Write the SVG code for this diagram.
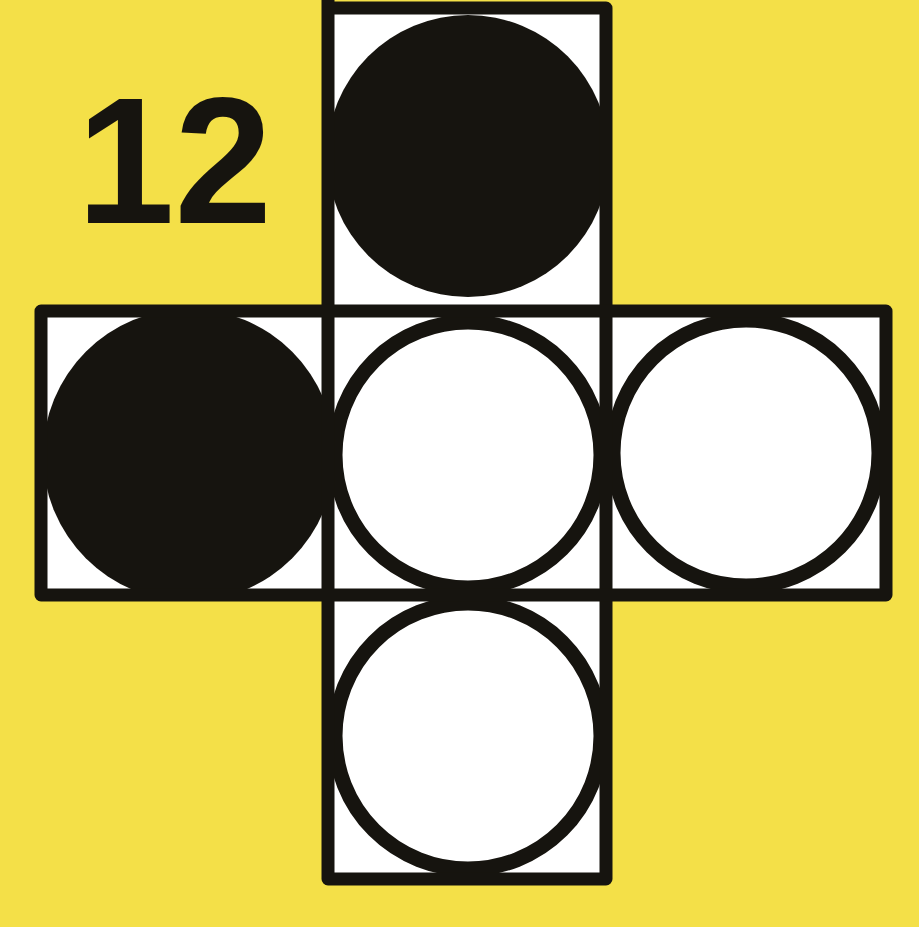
<svg xmlns="http://www.w3.org/2000/svg" width="919" height="927" viewBox="0 0 919 927">
<style>
.ln{stroke:#16140f;stroke-width:13;fill:none;stroke-linejoin:round;stroke-linecap:round}
.blk{fill:#16140f}
.wht{fill:#ffffff;stroke:#16140f;stroke-width:15}
.num{font-family:"Liberation Sans",Arial,sans-serif;font-weight:bold;font-size:180px;fill:#16140f}
</style>
<rect width="919" height="927" fill="#f4e048"/>
<g id="label"><text class="num" x="77" y="223" textLength="195" lengthAdjust="spacingAndGlyphs">12</text></g>
<g id="net">
<path d="M328,8 H606 V311 H886 V595 H606 V879 H328 V595 H41 V311 H328 Z" fill="#ffffff"/>
<g id="face-top"><circle class="blk" cx="468" cy="156" r="141"/></g>
<g id="face-left"><circle class="blk" cx="189" cy="455" r="146"/></g>
<g id="face-centre"><circle class="wht" cx="468" cy="455" r="133"/></g>
<g id="face-right"><circle class="wht" cx="746" cy="453" r="133"/></g>
<g id="face-bottom"><circle class="wht" cx="468" cy="736" r="133"/></g>
<g id="outline">
<path class="ln" d="M328,0 V879 H606 V8 H328"/>
<path class="ln" d="M41,311 H886 V595 H41 Z"/>
</g>
</g>
</svg>
